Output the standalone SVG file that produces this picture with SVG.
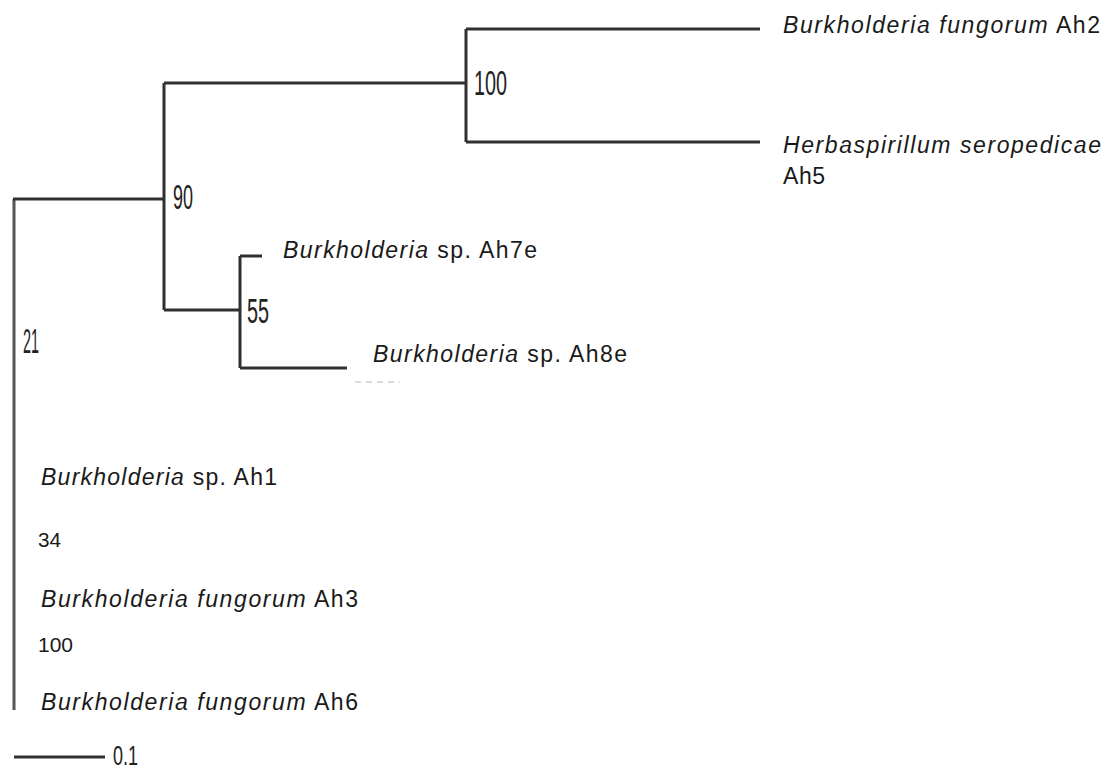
<svg xmlns="http://www.w3.org/2000/svg" width="1110" height="771" viewBox="0 0 1110 771">
<style>
.br{fill:none;stroke:#303030;stroke-width:3;stroke-linecap:butt}
.rt{stroke:#555}
.sp{font-family:"Liberation Sans",Arial,sans-serif;font-size:23px;fill:#1a1a1a}
.it{font-style:italic}
.bs{font-family:"Liberation Sans",Arial,sans-serif;font-size:35px;fill:#222}
.sm{font-family:"Liberation Sans",Arial,sans-serif;font-size:20px;fill:#1a1a1a}
</style>
<rect width="1110" height="771" fill="#ffffff"/>
<g id="connectors">
<path class="br rt" d="M14 199 V710"/>
<path class="br" d="M13 199 H164 M164 83 V310 M164 83 H466 M466 29 V142 M466 29 H760 M466 142 H760 M164 310 H240 M240 256 V368 M240 256 H262 M240 368 H347"/>
<path d="M355 382 H400" stroke="#d0d0d0" stroke-width="1.5" stroke-dasharray="6 5"/>
</g>
<g id="node-root">
<text class="bs" x="23" y="353" textLength="16" lengthAdjust="spacingAndGlyphs">21</text>
</g>
<g id="node-90">
<text class="bs" x="173" y="209" textLength="20" lengthAdjust="spacingAndGlyphs">90</text>
</g>
<g id="node-100">
<text class="bs" x="474" y="95" textLength="33" lengthAdjust="spacingAndGlyphs">100</text>
</g>
<g id="node-55">
<text class="bs" x="247" y="323" textLength="22" lengthAdjust="spacingAndGlyphs">55</text>
</g>
<g id="leaf-ah2">
<text class="sp" x="783" y="33" textLength="317" lengthAdjust="spacing"><tspan class="it">Burkholderia fungorum</tspan> Ah2</text>
</g>
<g id="leaf-ah5">
<text class="sp it" x="783" y="153" textLength="318" lengthAdjust="spacing">Herbaspirillum seropedicae</text>
<text class="sp" x="783" y="184" textLength="42" lengthAdjust="spacing">Ah5</text>
</g>
<g id="leaf-ah7e">
<text class="sp" x="283" y="258" textLength="254" lengthAdjust="spacing"><tspan class="it">Burkholderia</tspan> sp. Ah7e</text>
</g>
<g id="leaf-ah8e">
<text class="sp" x="373" y="362" textLength="254" lengthAdjust="spacing"><tspan class="it">Burkholderia</tspan> sp. Ah8e</text>
</g>
<g id="leaf-ah1">
<text class="sp" x="41" y="485" textLength="236" lengthAdjust="spacing"><tspan class="it">Burkholderia</tspan> sp. Ah1</text>
<text class="sm" x="38" y="547" textLength="23" lengthAdjust="spacingAndGlyphs">34</text>
</g>
<g id="leaf-ah3">
<text class="sp" x="41" y="607" textLength="317" lengthAdjust="spacing"><tspan class="it">Burkholderia fungorum</tspan> Ah3</text>
<text class="sm" x="38" y="652" textLength="35" lengthAdjust="spacingAndGlyphs">100</text>
</g>
<g id="leaf-ah6">
<text class="sp" x="41" y="710" textLength="317" lengthAdjust="spacing"><tspan class="it">Burkholderia fungorum</tspan> Ah6</text>
</g>
<g id="scale-bar">
<path class="br" d="M14 757 H105"/>
<text class="bs" x="113" y="765" style="font-size:28px" textLength="25" lengthAdjust="spacingAndGlyphs">0.1</text>
</g>
</svg>
